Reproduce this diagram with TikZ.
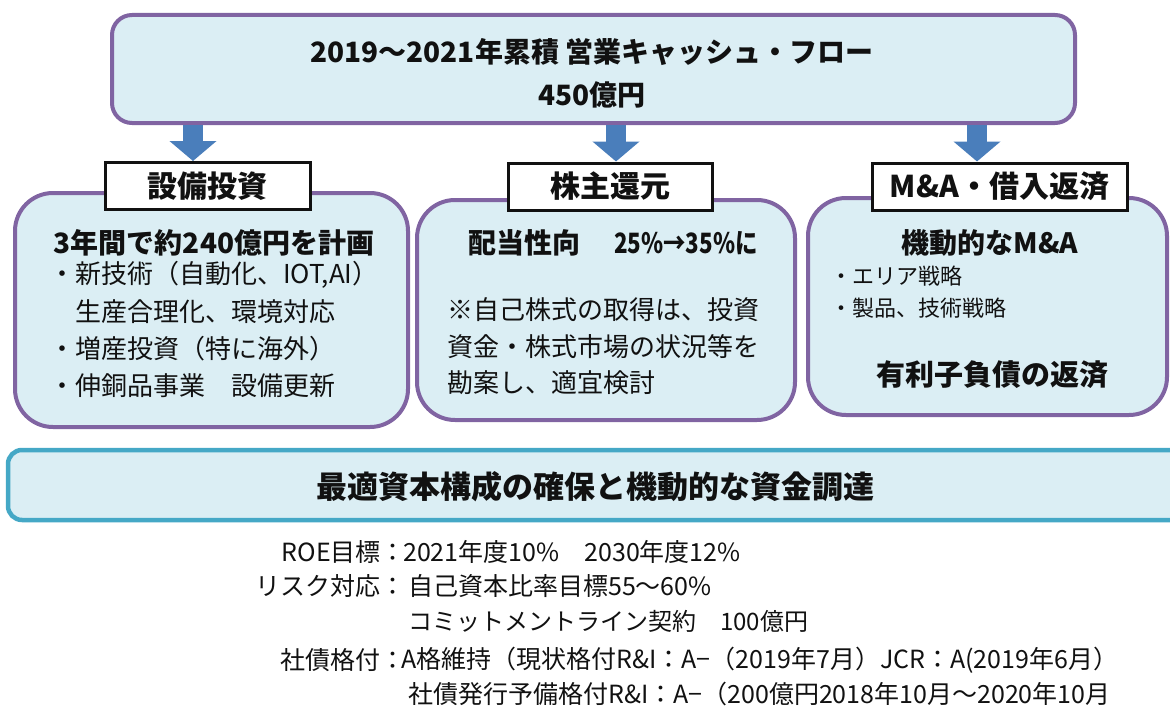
\documentclass[tikz,border=0pt]{standalone}
\usepackage{fontspec}
\setmainfont{Noto Sans CJK JP}
\newfontfamily\condjp[FakeStretch=0.8]{Noto Sans CJK JP}
\usetikzlibrary{arrows.meta}
\definecolor{boxfill}{HTML}{DBEEF4}
\definecolor{purp}{HTML}{8064A2}
\definecolor{tealb}{HTML}{45A8C6}
\definecolor{arr}{HTML}{4A7EBB}
\definecolor{ink}{HTML}{111111}
\tikzset{
  pbox/.style={draw=purp, line width=4pt, fill=boxfill, rounded corners=38pt, inner sep=0pt},
  topbox/.style={draw=purp, line width=4pt, fill=boxfill, rounded corners=20pt, inner sep=0pt},
  band/.style={draw=tealb, line width=4.5pt, fill=boxfill, rounded corners=14pt, inner sep=0pt},
  labbox/.style={draw=ink, line width=3pt, fill=white, inner sep=0pt, text=ink,
     font=\fontsize{30}{34}\selectfont\bfseries},
  bigarrow/.style={draw=arr, line width=20pt, -{Triangle[width=46pt,length=20pt]}},
  hd/.style={inner sep=0pt, text=ink, font=\fontsize{28}{32}\selectfont\bfseries},
  tx/.style={inner sep=0pt, text=ink, font=\fontsize{26}{30}\selectfont},
  sm/.style={inner sep=0pt, text=ink, font=\fontsize{22}{26}\selectfont},
  bt/.style={inner sep=0pt, text=ink, font=\fontsize{25}{29}\selectfont},
}
\begin{document}
\begin{tikzpicture}[x=1pt,y=-1pt]
\useasboundingbox (0,0) rectangle (1170,709);

% content boxes
\node[pbox, minimum width=393pt, minimum height=234pt] (boxL) at (211.5,310) {};
\node[pbox, minimum width=378pt, minimum height=220pt] (boxM) at (606,310) {};
\node[pbox, minimum width=359pt, minimum height=217pt] (boxR) at (987.5,306.5) {};

% top box
\coordinate (c1) at (193,0);
\coordinate (c2) at (616,0);
\coordinate (c3) at (977,0);
\node[topbox, minimum width=963pt, minimum height=108pt] (top) at (593.5,69) {};

% label boxes
\node[labbox, minimum width=205pt, minimum height=47pt] (lab1) at (207.5,186) {設備投資};
\node[labbox, minimum width=204pt, minimum height=47pt] (lab2) at (610,186.5) {株主還元};
\node[labbox, minimum width=255pt, minimum height=47pt] (lab3) at (999.5,186.5) {M\&A・借入返済};

% arrows
\draw[bigarrow] (top.south -| c1) -- (c1 |- lab1.north);
\draw[bigarrow] (top.south -| c2) -- (c2 |- lab2.north);
\draw[bigarrow] (top.south -| c3) -- (c3 |- lab3.north);

% top text
\node[hd] (t1) at (592,52) {2019～2021年累積 営業キャッシュ・フロー};
\node[hd] (t2) at (592,95) {450億円};

% left box text
\node[hd] (l0) at (214,243) {3年間で約240億円を計画};
\node[tx, anchor=west] (l1) at (49,275) {・新技術（自動化、IOT,AI）};
\node[tx, anchor=west] (l2) at (75,312) {生産合理化、環境対応};
\node[tx, anchor=west] (l3) at (49,349) {・増産投資（特に海外）};
\node[tx, anchor=west] (l4) at (49,386) {・伸銅品事業　設備更新};

% middle box text
\node[hd, anchor=west] (m0) at (468,243) {配当性向};
\node[hd, anchor=west, font=\fontsize{28}{32}\selectfont\condjp\bfseries] (m0b) at (614,243) {25\%→35\%に};
\node[tx, anchor=west] (m1) at (447,310) {※自己株式の取得は、投資};
\node[tx, anchor=west] (m2) at (447,347) {資金・株式市場の状況等を};
\node[tx, anchor=west] (m3) at (447,383) {勘案し、適宜検討};

% right box text
\node[hd] (r0) at (990,243) {機動的なM\&A};
\node[sm, anchor=west] (r1) at (830,276) {・エリア戦略};
\node[sm, anchor=west] (r2) at (830,308) {・製品、技術戦略};
\node[hd, font=\fontsize{29}{33}\selectfont\bfseries] (r3) at (992,375) {有利子負債の返済};

% band
\node[band, minimum width=1180pt, minimum height=70pt] (bandbox) at (598,485) {};
\node[hd, font=\fontsize{31}{35}\selectfont\bfseries] (b0) at (595,487) {最適資本構成の確保と機動的な資金調達};

% bottom text
\node[bt, anchor=east] (k1) at (406,552) {ROE目標：};
\node[bt, anchor=west] (v1) at (403,552) {2021年度10\%　2030年度12\%};
\node[bt, anchor=east] (k2) at (406,586) {リスク対応：};
\node[bt, anchor=west] (v2) at (408,586) {自己資本比率目標55～60\%};
\node[bt, anchor=west, font=\fontsize{24}{28}\selectfont] (v3) at (408,621) {コミットメントライン契約　100億円};
\node[bt, anchor=east] (k4) at (406,660) {社債格付：};
\node[bt, anchor=west] (v4) at (401,660) {A格維持（現状格付R\&I：A−（2019年7月）JCR：A(2019年6月）};
\node[bt, anchor=west] (v5) at (408,694) {社債発行予備格付R\&I：A−（200億円2018年10月～2020年10月};
\end{tikzpicture}
\end{document}
